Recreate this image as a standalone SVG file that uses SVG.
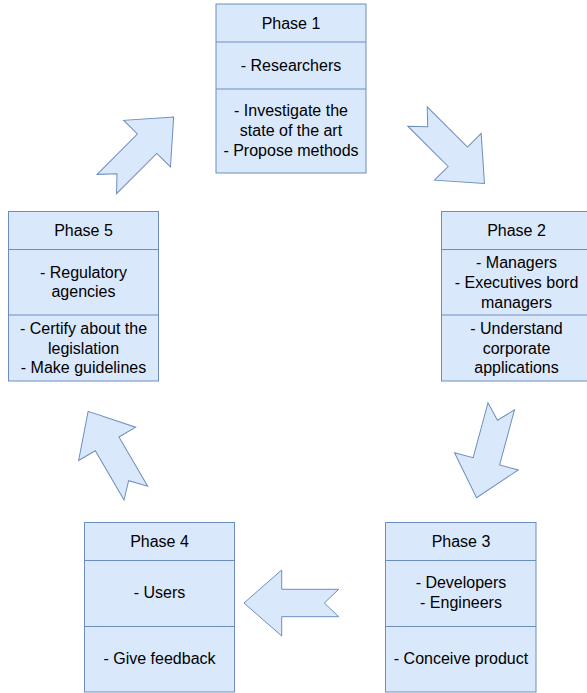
<svg xmlns="http://www.w3.org/2000/svg" xmlns:xlink="http://www.w3.org/1999/xlink" width="587" height="693" viewBox="0 0 587 693">
<style>
.box{fill:#dae8fc;stroke:#6c8ebf;stroke-width:1}
.div{stroke:#6c8ebf;stroke-width:1;fill:none}
.t{font-family:"Liberation Sans",Arial,Helvetica,sans-serif;font-size:16px;fill:#000;text-anchor:middle}
.arr{fill:#dae8fc;stroke:#6c8ebf;stroke-width:1;stroke-linejoin:miter}
</style>
<defs>
<polygon id="arrow" points="-47.35,-13.7 9.65,-13.7 9.65,-33 47.35,0 9.65,33 9.65,13.7 -47.35,13.7 -32.95,0"/>
</defs>
<rect width="587" height="693" fill="#ffffff"/>
<g id="connectors">
<use xlink:href="#arrow" class="arr" transform="translate(451,150) rotate(45)"/>
<use xlink:href="#arrow" class="arr" transform="translate(488.9,452) rotate(105.1)"/>
<use xlink:href="#arrow" class="arr" transform="translate(291.35,603) rotate(180)"/>
<use xlink:href="#arrow" class="arr" transform="translate(112,452.2) rotate(239.7)"/>
<use xlink:href="#arrow" class="arr" transform="translate(140.25,150.5) rotate(-45.1)"/>
</g>
<g id="phase1">
<rect class="box" x="216" y="4" width="150" height="169"/>
<line class="div" x1="216" y1="42" x2="366" y2="42"/>
<line class="div" x1="216" y1="89" x2="366" y2="89"/>
<text class="t" x="291" y="29">Phase 1</text>
<text class="t" x="291" y="71">- Researchers</text>
<text class="t" x="291" y="116">- Investigate the</text>
<text class="t" x="291" y="136">state of the art</text>
<text class="t" x="291" y="156">- Propose methods</text>
</g>
<g id="phase2">
<rect class="box" x="441.5" y="211.5" width="150" height="169.5"/>
<line class="div" x1="441.5" y1="249.5" x2="591.5" y2="249.5"/>
<line class="div" x1="441.5" y1="315" x2="591.5" y2="315"/>
<text class="t" x="516.5" y="236">Phase 2</text>
<text class="t" x="516.5" y="268">- Managers</text>
<text class="t" x="516.5" y="288">- Executives bord</text>
<text class="t" x="516.5" y="308">managers</text>
<text class="t" x="516.5" y="334">- Understand</text>
<text class="t" x="516.5" y="354">corporate</text>
<text class="t" x="516.5" y="373">applications</text>
</g>
<g id="phase3">
<rect class="box" x="385.5" y="522.5" width="150.5" height="169.5"/>
<line class="div" x1="385.5" y1="560.5" x2="536" y2="560.5"/>
<line class="div" x1="385.5" y1="626.5" x2="536" y2="626.5"/>
<text class="t" x="461" y="547">Phase 3</text>
<text class="t" x="461" y="588">- Developers</text>
<text class="t" x="461" y="608">- Engineers</text>
<text class="t" x="461" y="664">- Conceive product</text>
</g>
<g id="phase4">
<rect class="box" x="84.5" y="522.5" width="150" height="169.5"/>
<line class="div" x1="84.5" y1="560.5" x2="234.5" y2="560.5"/>
<line class="div" x1="84.5" y1="626.5" x2="234.5" y2="626.5"/>
<text class="t" x="159.5" y="547">Phase 4</text>
<text class="t" x="159.5" y="598">- Users</text>
<text class="t" x="159.5" y="664">- Give feedback</text>
</g>
<g id="phase5">
<rect class="box" x="8.5" y="211.5" width="150" height="169.5"/>
<line class="div" x1="8.5" y1="249.5" x2="158.5" y2="249.5"/>
<line class="div" x1="8.5" y1="315" x2="158.5" y2="315"/>
<text class="t" x="83.5" y="236">Phase 5</text>
<text class="t" x="83.5" y="278">- Regulatory</text>
<text class="t" x="83.5" y="297">agencies</text>
<text class="t" x="83.5" y="334">- Certify about the</text>
<text class="t" x="83.5" y="354">legislation</text>
<text class="t" x="83.5" y="373">- Make guidelines</text>
</g>
</svg>
